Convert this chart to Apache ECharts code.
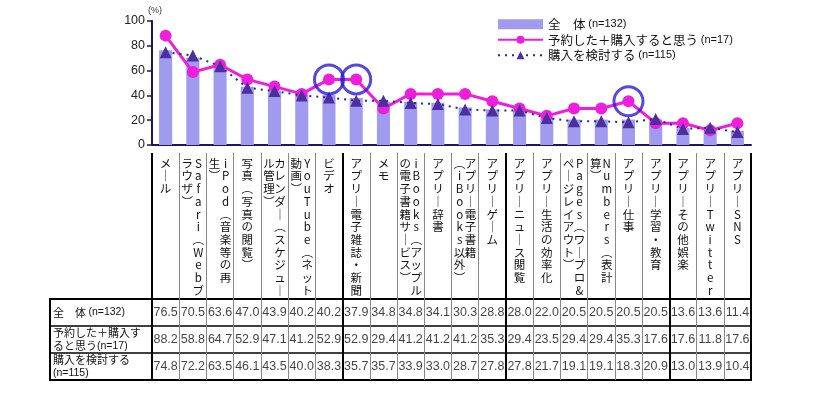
<!DOCTYPE html>
<html><head><meta charset="utf-8">
<script src="https://cdn.jsdelivr.net/npm/echarts@6/dist/echarts.min.js"></script>
<style>html,body{margin:0;padding:0;background:#fff}#c{width:826px;height:393px}</style>
</head><body><div id="c"></div>
<script>
// ---- data ----
const labelColumns = [
  ['メール'],
  ['Safari（Webブ', 'ラウザ）'],
  ['iPod（音楽等の再', '生）'],
  ['写真（写真の閲覧）'],
  ['カレンダー（スケジュー', 'ル管理）'],
  ['YouTube（ネット', '動画）'],
  ['ビデオ'],
  ['アプリ－電子雑誌・新聞'],
  ['メモ'],
  ['iBooks（アップル', 'の電子書籍サービス）'],
  ['アプリ－辞書'],
  ['アプリ－電子書籍', '（iBooks以外）'],
  ['アプリ－ゲーム'],
  ['アプリ－ニュース閲覧'],
  ['アプリ－生活の効率化'],
  ['Pages（ワープロ&', 'ページレイアウト）'],
  ['Numbers（表計', '算）'],
  ['アプリ－仕事'],
  ['アプリ－学習・教育'],
  ['アプリ－その他娯楽'],
  ['アプリ－Twitter'],
  ['アプリ－SNS']
];
const categories = labelColumns.map(c => c.join(''));
const seriesNames = ['全　体 (n=132)', '予約した＋購入すると思う (n=17)', '購入を検討する (n=115)'];
const rowLabels = ['全　体 (n=132)', '予約した＋購入す\nると思う(n=17)', '購入を検討する\n(n=115)'];
const allValues = [76.5, 70.5, 63.6, 47.0, 43.9, 40.2, 40.2, 37.9, 34.8, 34.8, 34.1, 30.3, 28.8, 28.0, 22.0, 20.5, 20.5, 20.5, 20.5, 13.6, 13.6, 11.4];
const reserveValues = [88.2, 58.8, 64.7, 52.9, 47.1, 41.2, 52.9, 52.9, 29.4, 41.2, 41.2, 41.2, 35.3, 29.4, 23.5, 29.4, 29.4, 35.3, 17.6, 17.6, 11.8, 17.6];
const considerValues = [74.8, 72.2, 63.5, 46.1, 43.5, 40.0, 38.3, 35.7, 35.7, 33.9, 33.0, 28.7, 27.8, 27.8, 21.7, 19.1, 19.1, 18.3, 20.9, 13.0, 13.9, 10.4];
const highlighted = [6, 7, 17];
const yTicks = {min: 0, max: 100, interval: 20};
const thickBoundaries = [0, 7, 13, 19, 22];
const tableRows = [allValues, reserveValues, considerValues];

// ---- helpers ----
const vmap = {'（': '︵', '）': '︶', 'ー': '｜', '－': '｜'};
function vertLabel(name) {
  const idx = categories.indexOf(name);
  const cols = labelColumns[idx].map(s => Array.from(s).map(ch => vmap[ch] || ch));
  const n = Math.max(...cols.map(c => c.length));
  const lines = [];
  for (let i = 0; i < n; i++) {
    let line = '';
    for (let k = cols.length - 1; k >= 0; k--) {
      const ch = cols[k][i];
      line += ch ? '{c|' + ch + '}' : '{e| }';
    }
    lines.push(line);
  }
  return lines.join('\n');
}
function smallN(s) { return s.replace(/\((n=\d+)\)/g, '{s|($1)}'); }
function headerLabel(s) {
  return s.split('\n').map(line => {
    const m = line.match(/^(.*?)(\(n=\d+\))?$/);
    return (m[1] ? '{j|' + m[1] + '}' : '') + (m[2] ? '{s|' + m[2] + '}' : '');
  }).join('\n');
}

const JP = '"Noto Sans CJK JP", sans-serif';
const LAT = '"Liberation Sans", Arial, sans-serif';
const GL = 152, GW = 599;

const chart = echarts.init(document.getElementById('c'), null, {renderer: 'canvas'});
const hiddenAxis = {axisLine: {show: false}, axisTick: {show: false}, axisLabel: {show: false}};

chart.setOption({
  backgroundColor: '#fff',
  animation: false,
  grid: [
    {left: GL, top: 21, width: GW, height: 124},
    {left: GL, top: 153, width: GW, height: 146},
    {left: GL, top: 299, width: GW, height: 81, show: true, borderColor: '#000', borderWidth: 2, backgroundColor: 'transparent'},
    {left: 50, top: 299, width: 102, height: 81, show: true, borderColor: '#000', borderWidth: 2, backgroundColor: 'transparent'}
  ],
  legend: {
    orient: 'vertical', left: 492, top: 13, itemGap: 3, itemWidth: 45, itemHeight: 10,
    data: [{name: seriesNames[0], icon: 'rect'}, {name: seriesNames[1]}, {name: seriesNames[2]}],
    formatter: smallN,
    textStyle: {fontSize: 12.5, fontFamily: JP, color: '#111',
      rich: {s: {fontSize: 11, fontFamily: LAT, color: '#111'}}}
  },
  xAxis: [
    {gridIndex: 0, type: 'category', data: categories,
      axisLine: {lineStyle: {color: '#1a1660', width: 2}}, axisTick: {show: false},
      axisLabel: {interval: 0, margin: 12, verticalAlign: 'top', formatter: vertLabel,
        rich: {
          c: {width: 11, align: 'center', fontSize: 11.5, lineHeight: 12.7, fontFamily: JP, color: '#111'},
          e: {width: 11, fontSize: 11.5, lineHeight: 12.7}
        }}},
    Object.assign({gridIndex: 1, type: 'category', data: categories,
      splitLine: {show: true, interval: 0, lineStyle: {color: '#888', width: 1}}}, hiddenAxis),
    Object.assign({gridIndex: 1, type: 'category', data: categories,
      splitLine: {show: true, interval: (i) => thickBoundaries.includes(i), lineStyle: {color: '#000', width: 2}}}, hiddenAxis),
    Object.assign({gridIndex: 2, type: 'category', data: categories,
      splitLine: {show: true, interval: 0, lineStyle: {color: '#888', width: 1}}}, hiddenAxis),
    Object.assign({gridIndex: 2, type: 'category', data: categories,
      splitLine: {show: true, interval: (i) => thickBoundaries.includes(i), lineStyle: {color: '#000', width: 2}}}, hiddenAxis),
    Object.assign({gridIndex: 3, type: 'value', splitLine: {show: false}}, hiddenAxis)
  ],
  yAxis: [
    {gridIndex: 0, type: 'value', min: yTicks.min, max: yTicks.max, interval: yTicks.interval,
      name: '(%)', nameLocation: 'end', nameGap: 2,
      nameTextStyle: {fontSize: 9, color: '#333', fontFamily: LAT, align: 'left', padding: [0, 0, 0, -4]},
      axisLine: {show: true, lineStyle: {color: '#1a1660', width: 2}},
      axisTick: {show: true, length: 5, lineStyle: {color: '#1a1660', width: 1.5}},
      splitLine: {show: false},
      axisLabel: {fontSize: 12.5, color: '#222', margin: 7, fontFamily: LAT}},
    Object.assign({gridIndex: 1, type: 'value', min: 0, max: 1, splitLine: {show: false}}, hiddenAxis),
    Object.assign({gridIndex: 2, type: 'category', data: rowLabels, inverse: true,
      splitLine: {show: true, interval: 0, lineStyle: {color: '#000', width: 1.5}}}, hiddenAxis),
    {gridIndex: 3, type: 'category', data: rowLabels, inverse: true,
      axisLine: {show: false}, axisTick: {show: false},
      splitLine: {show: true, interval: 0, lineStyle: {color: '#000', width: 1.5}},
      axisLabel: {inside: true, margin: 3, align: 'left', formatter: headerLabel,
        rich: {
          j: {fontSize: 11, lineHeight: 12.5, fontFamily: JP, color: '#111'},
          s: {fontSize: 10.5, lineHeight: 12.5, fontFamily: LAT, color: '#111'}
        }}}
  ],
  series: [
    {name: seriesNames[0], type: 'bar', xAxisIndex: 0, yAxisIndex: 0, data: allValues,
      barWidth: '48%', itemStyle: {color: '#a19bf0'}, z: 2},
    {name: seriesNames[1], type: 'line', xAxisIndex: 0, yAxisIndex: 0, data: reserveValues,
      symbol: 'circle', symbolSize: 12, showAllSymbol: true,
      lineStyle: {color: '#ee1fdc', width: 3}, itemStyle: {color: '#ee1fdc'}, z: 3},
    {name: seriesNames[2], type: 'line', xAxisIndex: 0, yAxisIndex: 0, data: considerValues,
      symbol: 'triangle', symbolSize: 12, showAllSymbol: true,
      lineStyle: {color: '#262a80', width: 2, type: [2, 5]}, itemStyle: {color: '#4b2f9e'}, z: 4},
    {name: 'highlight', type: 'scatter', xAxisIndex: 0, yAxisIndex: 0,
      data: highlighted.map(i => [i, reserveValues[i]]),
      symbol: 'circle', symbolSize: 29,
      itemStyle: {color: 'rgba(0,0,0,0)', borderColor: '#2a1ad6', borderWidth: 3}, z: 5},
    ...tableRows.map((vals, r) => ({
      name: 'table' + r, type: 'scatter', xAxisIndex: 3, yAxisIndex: 2,
      data: vals.map((v, i) => [i, r, v]), symbolSize: 1,
      itemStyle: {color: 'rgba(0,0,0,0)'},
      label: {show: true, position: 'inside', formatter: p => p.value[2].toFixed(1),
        fontSize: 12.5, fontFamily: LAT, color: '#111'}
    }))
  ]
});
</script></body></html>
